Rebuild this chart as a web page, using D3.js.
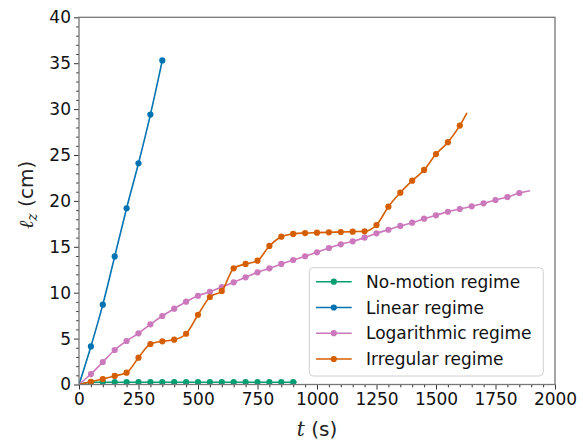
<!DOCTYPE html>
<html>
<head>
<meta charset="utf-8">
<script src="https://cdn.jsdelivr.net/npm/d3@7"></script>
<style>
  html, body { margin: 0; padding: 0; background: #fff; }
  svg { display: block; }
  text { font-family: "DejaVu Sans", sans-serif; }
</style>
</head>
<body>
<svg id="chart" width="583" height="442"></svg>
<script>
// ---------- data ----------
const seriesNames = ["No-motion regime", "Linear regime", "Logarithmic regime", "Irregular regime"];
const seriesColors = ["#029e73", "#0173b2", "#cc78bc", "#d55e00"];

const noMotionT = [50,100,150,200,250,300,350,400,450,500,550,600,650,700,750,800,850,900];
const noMotionV = [0.25,0.25,0.25,0.25,0.25,0.25,0.25,0.25,0.25,0.25,0.25,0.25,0.25,0.25,0.25,0.25,0.25,0.25];
const noMotionEnd = [915, 0.25];

const linearT = [50,100,150,200,250,300,350];
const linearV = [4.15,8.7,13.95,19.2,24.1,29.4,35.3];
const linearEnd = null;

const logT = [50,100,150,200,250,300,350,400,450,500,550,600,650,700,750,800,850,900,950,1000,
              1050,1100,1150,1200,1250,1300,1350,1400,1450,1500,1550,1600,1650,1700,1750,1800,1850];
const logV = [1.14,2.45,3.76,4.74,5.58,6.56,7.46,8.26,9.02,9.67,10.1,10.6,11.13,11.68,12.22,12.65,13.13,13.56,13.97,14.4,
              14.87,15.27,15.6,16.0,16.47,16.86,17.27,17.63,18.06,18.43,18.82,19.12,19.41,19.74,20.1,20.42,20.86];
const logEnd = [1895, 21.1];

const irregT = [50,100,150,200,250,300,350,400,450,500,550,600,650,700,750,800,850,900,950,1000,
                1050,1100,1150,1200,1250,1300,1350,1400,1450,1500,1550,1600];
const irregV = [0.3,0.6,0.93,1.29,2.92,4.41,4.7,4.88,5.53,7.6,9.53,10.19,12.66,13.13,13.49,15.09,16.1,16.4,16.5,16.54,
                16.58,16.61,16.65,16.69,17.37,19.37,20.9,22.2,23.37,25.1,26.4,28.2];
const irregEnd = [1630, 29.6];

const xTicks = [0,250,500,750,1000,1250,1500,1750,2000];
const yTicks = [0,5,10,15,20,25,30,35,40];

// ---------- layout ----------
const W = 583, H = 442;
const m = { left: 79, top: 17.3, right: 583 - 555, bottom: 442 - 384.5 };
const svg = d3.select("#chart");

const x = d3.scaleLinear().domain([0, 2000]).range([m.left, W - m.right]);
const y = d3.scaleLinear().domain([0, 40]).range([H - m.bottom, m.top]);

function build(ts, vs, end) {
  const pts = [[0, 0]];
  ts.forEach((t, i) => pts.push([t, vs[i]]));
  if (end) pts.push(end);
  return pts;
}
const series = [
  { pts: build(noMotionT, noMotionV, noMotionEnd), mk: noMotionT.map((t, i) => [t, noMotionV[i]]) },
  { pts: build(linearT, linearV, linearEnd), mk: linearT.map((t, i) => [t, linearV[i]]) },
  { pts: build(logT, logV, logEnd), mk: logT.map((t, i) => [t, logV[i]]) },
  { pts: build(irregT, irregV, irregEnd), mk: irregT.map((t, i) => [t, irregV[i]]) }
];

const clipId = "plotclip";
svg.append("clipPath").attr("id", clipId)
  .append("rect")
  .attr("x", m.left).attr("y", m.top)
  .attr("width", W - m.left - m.right).attr("height", H - m.top - m.bottom);

const line = d3.line().x(d => x(d[0])).y(d => y(d[1])).curve(d3.curveMonotoneX);

const plot = svg.append("g").attr("clip-path", `url(#${clipId})`);
series.forEach((s, i) => {
  const g = plot.append("g");
  g.append("path").datum(s.pts)
    .attr("d", line).attr("fill", "none")
    .attr("stroke", seriesColors[i]).attr("stroke-width", 1.6);
  g.selectAll("circle").data(s.mk).join("circle")
    .attr("cx", d => x(d[0])).attr("cy", d => y(d[1]))
    .attr("r", 3.1).attr("fill", seriesColors[i]);
});

// ---------- axes ----------
const tickColor = "#333";
const fontSize = 17;

svg.append("g").attr("transform", `translate(0,${H - m.bottom})`)
  .call(d3.axisBottom(x).tickValues(xTicks).tickFormat(d3.format("d")).tickSize(5).tickPadding(3));
const xMinor = [];
for (let i = 0; i <= 2000; i += 50) if (i % 250 !== 0) xMinor.push(i);
svg.append("g").attr("transform", `translate(0,${H - m.bottom})`)
  .call(d3.axisBottom(x).tickValues(xMinor).tickFormat("").tickSize(2.8));

svg.append("g").attr("transform", `translate(${m.left},0)`)
  .call(d3.axisLeft(y).tickValues(yTicks).tickFormat(d3.format("d")).tickSize(5).tickPadding(3));
const yMinor = [];
for (let i = 0; i <= 40; i += 1) if (i % 5 !== 0) yMinor.push(i);
svg.append("g").attr("transform", `translate(${m.left},0)`)
  .call(d3.axisLeft(y).tickValues(yMinor).tickFormat("").tickSize(2.8));

svg.selectAll(".tick line").attr("stroke", tickColor).attr("stroke-width", 1);
svg.selectAll(".tick text").attr("font-size", fontSize).attr("fill", "#111")
  .attr("font-family", "DejaVu Sans, sans-serif");
svg.selectAll(".domain").remove();

// frame (spines)
svg.append("rect")
  .attr("x", m.left).attr("y", m.top)
  .attr("width", W - m.left - m.right).attr("height", H - m.top - m.bottom)
  .attr("fill", "none").attr("stroke", "#777").attr("stroke-width", 1.3);

// ---------- axis labels ----------
const xl = svg.append("text")
  .attr("x", (m.left + W - m.right) / 2).attr("y", 436)
  .attr("text-anchor", "middle").attr("font-size", 20).attr("fill", "#222");
xl.append("tspan").text("t").attr("font-family", "DejaVu Serif, serif").attr("font-style", "italic");
xl.append("tspan").text(" (s)");

const yl = svg.append("text")
  .attr("transform", `translate(33,${(m.top + H - m.bottom) / 2 - 6}) rotate(-90)`)
  .attr("text-anchor", "middle").attr("font-size", 20).attr("fill", "#222");
yl.append("tspan").text("ℓ").attr("font-family", "DejaVu Serif, serif").attr("font-style", "italic");
yl.append("tspan").text("z").attr("font-family", "DejaVu Serif, serif").attr("font-style", "italic")
  .attr("font-size", 14).attr("dy", 4);
yl.append("tspan").text(" (cm)").attr("dy", -4);

// ---------- legend ----------
const lg = svg.append("g");
lg.append("rect")
  .attr("x", 309.3).attr("y", 267.7).attr("width", 234).attr("height", 108.3)
  .attr("rx", 4).attr("fill", "#fff").attr("fill-opacity", 0.8)
  .attr("stroke", "#d0d0d0").attr("stroke-width", 1);
const rowY = [281.7, 307.5, 333.2, 359];
seriesNames.forEach((name, i) => {
  const gy = rowY[i];
  lg.append("line").attr("x1", 316).attr("x2", 351.7).attr("y1", gy).attr("y2", gy)
    .attr("stroke", seriesColors[i]).attr("stroke-width", 1.6);
  lg.append("circle").attr("cx", 333.8).attr("cy", gy).attr("r", 3.1).attr("fill", seriesColors[i]);
  lg.append("text").attr("x", 366).attr("y", gy).attr("dy", "0.36em")
    .attr("font-size", 17).attr("fill", "#111").text(name);
});
</script>
</body>
</html>
